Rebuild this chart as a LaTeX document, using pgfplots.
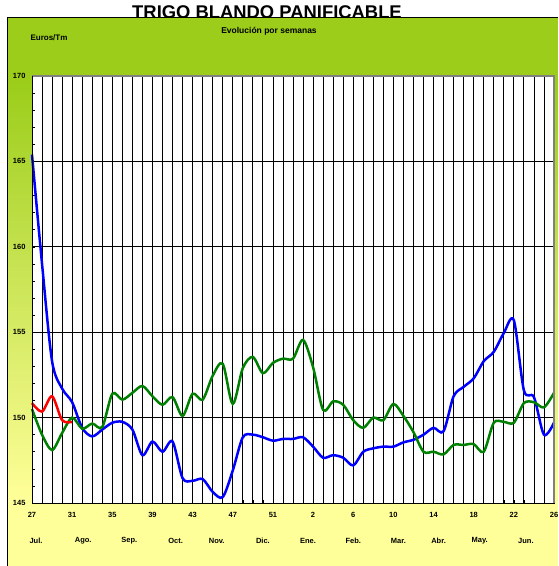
\documentclass[border=0pt]{standalone}
\usepackage{fontspec}
\setmainfont{Liberation Sans}
\usepackage{pgfplots}
\pgfplotsset{compat=1.18}
\definecolor{bggreen}{RGB}{155,205,26}
\definecolor{bgyellow}{RGB}{255,255,153}
\definecolor{lgreen}{RGB}{0,128,0}
\begin{document}
\begin{tikzpicture}[x=1pt,y=1pt]
\useasboundingbox (0,0) rectangle (558,566);
\node[font=\fontsize{18.4}{18}\selectfont\bfseries, anchor=base, inner sep=0pt] at (267,547) {TRIGO BLANDO PANIFICABLE};
\fill[bgyellow] (7,0) rectangle (558,548);
\fill[bggreen] (7,486) rectangle (558,548);
\shade[top color=bggreen,bottom color=bgyellow] (7,66) rectangle (558,486.2);
\draw[black, line width=1pt] (7,0) -- (7,548) -- (558,548);
\node[font=\fontsize{8}{9}\selectfont\bfseries] at (49,528) {Euros/Tm};
\node[font=\fontsize{8.5}{9}\selectfont\bfseries] at (269,535) {Evolución por semanas};
\begin{axis}[
  at={(32pt,63pt)}, anchor=south west, scale only axis,
  width=522pt, height=427pt,
  xmin=0, xmax=52, ymin=145, ymax=170,
  clip=false,
  xtick pos=bottom, ytick pos=left,
  xtick={0,4,...,52},
  xticklabels={27,31,35,39,43,47,51,2,6,10,14,18,22,26},
  minor x tick num=3,
  xmajorgrids, xminorgrids,
  ytick={145,150,...,170},
  minor y tick num=4,
  ymajorgrids,
  grid style={black, line width=0.8pt},
  minor grid style={black, line width=0.8pt},
  axis background/.style={fill=white},
  axis line style={black, line width=0.8pt},
  tick style={black, line width=0.6pt},
  major tick length=3pt, minor tick length=3pt,
  ticklabel style={font=\fontsize{7.5}{8}\selectfont\bfseries},
  /pgf/number format/assume math mode=true,
  xticklabel style={yshift=-6pt},
  yticklabel style={xshift=-3pt},
]
\addplot[blue, line width=2.5pt, smooth, tension=0.5] coordinates {
(0,165.4) (1,159.0) (2,153.3) (3,151.7) (4,150.9) (5,149.4) (6,148.9) (7,149.3)
(8,149.7) (9,149.75) (10,149.3) (11,147.8) (12,148.6) (13,148.0) (14,148.6)
(15,146.45) (16,146.3) (17,146.4) (18,145.65) (19,145.35) (20,146.9) (21,148.85)
(22,149.0) (23,148.85) (24,148.65) (25,148.75) (26,148.75) (27,148.85) (28,148.3)
(29,147.65) (30,147.8) (31,147.65) (32,147.2) (33,148.0) (34,148.2) (35,148.3)
(36,148.3) (37,148.55) (38,148.7) (39,149.0) (40,149.4) (41,149.2) (42,151.25)
(43,151.8) (44,152.3) (45,153.3) (46,153.85) (47,154.95) (48,155.7) (49,151.6)
(50,151.2) (51,149.0) (52,149.7)
};
\addplot[lgreen, line width=2.5pt, smooth, tension=0.5] coordinates {
(0,150.5) (1,149.0) (2,148.1) (3,149.1) (4,150.0) (5,149.35) (6,149.65) (7,149.45)
(8,151.4) (9,151.05) (10,151.45) (11,151.85) (12,151.25) (13,150.75) (14,151.2)
(15,150.1) (16,151.4) (17,151.05) (18,152.45) (19,153.15) (20,150.8) (21,152.9)
(22,153.55) (23,152.6) (24,153.2) (25,153.45) (26,153.45) (27,154.55) (28,152.95)
(29,150.45) (30,150.95) (31,150.75) (32,149.85) (33,149.4) (34,150.0) (35,149.85)
(36,150.8) (37,150.1) (38,149.15) (39,148.0) (40,148.0) (41,147.85) (42,148.4)
(43,148.4) (44,148.45) (45,148.0) (46,149.7) (47,149.75) (48,149.7) (49,150.85)
(50,150.9) (51,150.6) (52,151.45)
};
\addplot[red, line width=2.5pt, smooth, tension=0.5] coordinates {
(0,150.85) (1,150.35) (2,151.25) (3,149.85) (4,149.75)
};
\draw[gray, line width=1.5pt] (rel axis cs:0,1) -- (rel axis cs:1,1) -- (rel axis cs:1,0);
\draw[black, line width=0.8pt] (rel axis cs:0,1) -- (rel axis cs:0,0) -- (rel axis cs:1,0);
\foreach \p/\m in {0.4/Jul., 5.1/Ago., 9.7/Sep., 14.3/Oct., 18.4/Nov., 23/Dic., 27.5/Ene., 32/Feb., 36.5/Mar., 40.5/Abr., 44.6/May., 49.2/Jun.}{
  \edef\tmp{\noexpand\node[font=\noexpand\fontsize{7.5}{8}\noexpand\selectfont\noexpand\bfseries] at (axis cs:\p,145) [yshift=-38pt] {\m};}
  \tmp
}
\end{axis}
\end{tikzpicture}
\end{document}
